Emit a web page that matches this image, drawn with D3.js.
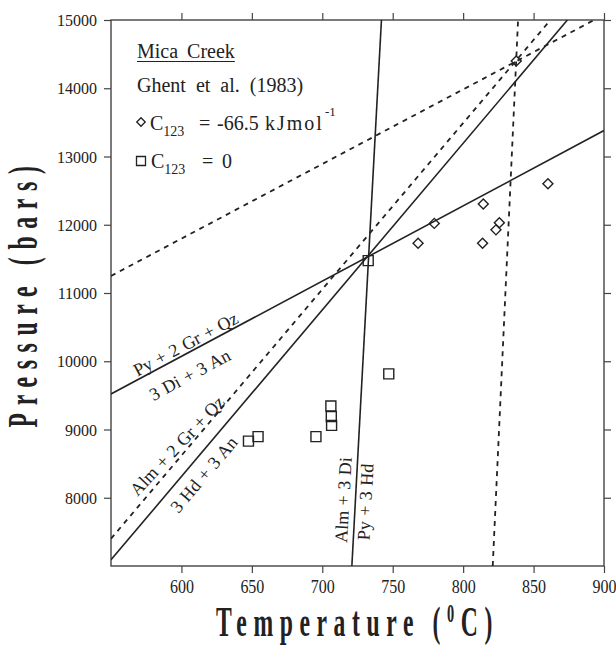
<!DOCTYPE html>
<html>
<head>
<meta charset="utf-8">
<script src="https://cdn.jsdelivr.net/npm/d3@7"></script>
<style>
  body { margin: 0; background: #fff; }
  svg { display: block; font-family: "Liberation Serif", "Times New Roman", serif; }
</style>
</head>
<body>
<div id="chart"></div>
<script>
const width = 616;
const height = 647;
const margin = {top: 20, right: 12, bottom: 81, left: 111};

// tick values
const tempTicks = [600, 650, 700, 750, 800, 850, 900];
const presTicks = [8000, 9000, 10000, 11000, 12000, 13000, 14000, 15000];

// C123 = -66.5 kJ/mol
const diamondPts = [
    {t: 837.7, p: 14400}, {t: 860.2, p: 12600}, {t: 814.3, p: 12305},
    {t: 779.5, p: 12020}, {t: 768.0, p: 11730}, {t: 813.8, p: 11730},
    {t: 823.3, p: 11925}, {t: 825.7, p: 12030}
];
// C123 = 0
const squarePts = [
    {t: 732.6, p: 11475}, {t: 747.2, p: 9815}, {t: 706.1, p: 9345},
    {t: 706.4, p: 9190}, {t: 706.6, p: 9060}, {t: 695.5, p: 8895},
    {t: 654.4, p: 8895}, {t: 647.6, p: 8830}
];

// reaction lines (end points, T in C, P in bars)
const solidLines = [
    [{t: 550, p: 9520}, {t: 900, p: 13380}],   // Py + 2Gr + Qz = 3Di + 3An
    [{t: 550, p: 7090}, {t: 874, p: 15000}],   // Alm + 2Gr + Qz = 3Hd + 3An
    [{t: 721, p: 7000}, {t: 742, p: 15000}]    // Alm + 3Di = Py + 3Hd
];
const dashedLines = [
    [{t: 550, p: 11250}, {t: 893, p: 15000}],
    [{t: 550, p: 7400}, {t: 862, p: 15000}],
    [{t: 821, p: 7000}, {t: 839, p: 15000}]
];

const lineLabels = [
    {text: "Py + 2 Gr + Qz", t: 603, p: 10250, line: 0},
    {text: "3 Di + 3 An", t: 606, p: 9800, line: 0},
    {text: "Alm + 2 Gr + Qz", t: 597, p: 8760, line: 1, tilt: 3},
    {text: "3 Hd + 3 An", t: 616, p: 8340, line: 1},
    {text: "Alm + 3 Di", t: 715, p: 7967, line: 2},
    {text: "Py + 3 Hd", t: 730.7, p: 7938, line: 2}
];

const svg = d3.select("#chart").append("svg")
    .attr("width", width)
    .attr("height", height);

const x = d3.scaleLinear().domain([550, 900]).range([margin.left, width - margin.right]);
const y = d3.scaleLinear().domain([7000, 15000]).range([height - margin.bottom, margin.top]);

const ink = "#222";
const serif = "'Liberation Serif', 'Times New Roman', serif";

svg.append("defs").append("clipPath").attr("id", "plot")
  .append("rect")
    .attr("x", x(550)).attr("y", y(15000))
    .attr("width", x(900) - x(550)).attr("height", y(7000) - y(15000));

// axes on all four sides, ticks outward
const bottomAxis = svg.append("g")
    .attr("transform", `translate(0,${y(7000)})`)
    .call(d3.axisBottom(x).tickValues(tempTicks).tickSize(7).tickSizeOuter(0).tickFormat(d3.format("d")));

svg.append("g")
    .attr("transform", `translate(0,${y(15000)})`)
    .call(d3.axisTop(x).tickValues(tempTicks).tickSize(7).tickSizeOuter(0).tickFormat(""));

const leftAxis = svg.append("g")
    .attr("transform", `translate(${x(550)},0)`)
    .call(d3.axisLeft(y).tickValues(presTicks).tickSize(7).tickPadding(7).tickSizeOuter(0).tickFormat(d3.format("d")));

svg.append("g")
    .attr("transform", `translate(${x(900)},0)`)
    .call(d3.axisRight(y).tickValues(presTicks).tickSize(7).tickSizeOuter(0).tickFormat(""));

svg.selectAll(".domain").remove();
svg.selectAll("g").attr("font-family", null).attr("font-size", null);
svg.selectAll(".tick line").attr("stroke", "#444").attr("stroke-width", 1.2);
svg.selectAll(".tick text")
    .attr("fill", ink)
    .attr("font-family", serif)
    .attr("font-size", 16);

bottomAxis.selectAll("text")
    .attr("y", 0).attr("dy", null)
    .attr("transform", "translate(0,27) scale(1,1.2)");
leftAxis.selectAll("text")
    .attr("dy", null)
    .attr("dominant-baseline", "central")
    .attr("transform", "scale(1,1.08)");

svg.append("rect")
    .attr("x", x(550)).attr("y", y(15000))
    .attr("width", x(900) - x(550)).attr("height", y(7000) - y(15000))
    .attr("fill", "none").attr("stroke", "#444").attr("stroke-width", 1.4);

// reaction lines
const lineGen = d3.line().x(d => x(d.t)).y(d => y(d.p));
const plot = svg.append("g").attr("clip-path", "url(#plot)");

plot.selectAll("path.solid")
  .data(solidLines)
  .join("path")
    .attr("class", "solid")
    .attr("d", lineGen)
    .attr("fill", "none")
    .attr("stroke", ink)
    .attr("stroke-width", 1.6);

plot.selectAll("path.dashed")
  .data(dashedLines)
  .join("path")
    .attr("class", "dashed")
    .attr("d", lineGen)
    .attr("fill", "none")
    .attr("stroke", ink)
    .attr("stroke-width", 1.8)
    .attr("stroke-dasharray", "5,5");

// line labels
function lineAngle(seg) {
    const dx = x(seg[1].t) - x(seg[0].t);
    const dy = y(seg[1].p) - y(seg[0].p);
    return Math.atan2(dy, dx) * 180 / Math.PI;
}

svg.append("g")
  .selectAll("text")
  .data(lineLabels)
  .join("text")
    .attr("transform", d => `translate(${x(d.t)},${y(d.p)}) rotate(${lineAngle(solidLines[d.line]) + (d.tilt || 0)})`)
    .attr("text-anchor", "middle")
    .attr("dominant-baseline", "central")
    .attr("fill", ink)
    .attr("font-family", serif)
    .style("font-size", "18px")
    .style("word-spacing", "1px")
    .text(d => d.text);

// data points
svg.append("g")
  .selectAll("path")
  .data(diamondPts)
  .join("path")
    .attr("d", d3.symbol(d3.symbolSquare, 50))
    .attr("transform", d => `translate(${x(d.t)},${y(d.p)}) rotate(45)`)
    .attr("fill", "none")
    .attr("stroke", ink)
    .attr("stroke-width", 1.4);

svg.append("g")
  .selectAll("path")
  .data(squarePts)
  .join("path")
    .attr("d", d3.symbol(d3.symbolSquare, 100))
    .attr("transform", d => `translate(${x(d.t)},${y(d.p)})`)
    .attr("fill", "none")
    .attr("stroke", ink)
    .attr("stroke-width", 1.4);

// legend
const legend = svg.append("g").attr("fill", ink).attr("font-family", serif).style("font-size", "20px");

const title = legend.append("text").attr("x", 137).attr("y", 58).text("Mica Creek").style("word-spacing", "4px");
const tw = title.node().getComputedTextLength();
legend.append("line")
    .attr("x1", 137).attr("x2", 137 + tw)
    .attr("y1", 61.5).attr("y2", 61.5)
    .attr("stroke", ink).attr("stroke-width", 1.2);

legend.append("text").attr("x", 137).attr("y", 92)
    .style("word-spacing", "5px")
    .text("Ghent et al. (1983)");

legend.append("path")
    .attr("d", d3.symbol(d3.symbolSquare, 36))
    .attr("transform", "translate(141,122) rotate(45)")
    .attr("fill", "none").attr("stroke", ink).attr("stroke-width", 1.3);

const l1 = legend.append("text").attr("y", 130);
l1.append("tspan").attr("x", 150).text("C");
l1.append("tspan").attr("dy", 6).style("font-size", "14px").text("123");
l1.append("tspan").attr("x", 199).attr("dy", -6).text("=");
l1.append("tspan").attr("x", 217).text("-66.5");
l1.append("tspan").attr("x", 265).style("letter-spacing", "2px").text("kJmol");
l1.append("tspan").attr("dx", 1).attr("dy", -14).style("font-size", "13px").text("-1");

legend.append("path")
    .attr("d", d3.symbol(d3.symbolSquare, 81))
    .attr("transform", "translate(141,161)")
    .attr("fill", "none").attr("stroke", ink).attr("stroke-width", 1.3);

const l2 = legend.append("text").attr("y", 168);
l2.append("tspan").attr("x", 151).text("C");
l2.append("tspan").attr("dy", 6).style("font-size", "14px").text("123");
l2.append("tspan").attr("x", 202).attr("dy", -6).text("=");
l2.append("tspan").attr("x", 222).text("0");

// axis titles
const xt = svg.append("text")
    .attr("transform", `translate(${(x(550) + x(900)) / 2},636) scale(0.55,1)`)
    .attr("text-anchor", "middle")
    .attr("fill", ink)
    .attr("font-family", serif)
    .style("font-size", "43px")
    .style("font-weight", "bold")
    .style("letter-spacing", "12px");
xt.append("tspan").text("Temperature (");
xt.append("tspan").attr("dy", -14).style("font-size", "26px").text("0");
xt.append("tspan").attr("dy", 14).text("C)");

svg.append("text")
    .attr("transform", `translate(37,${(y(7000) + y(15000)) / 2}) rotate(-90) scale(0.55,1)`)
    .attr("text-anchor", "middle")
    .attr("fill", ink)
    .attr("font-family", serif)
    .style("font-size", "43px")
    .style("font-weight", "bold")
    .style("letter-spacing", "14px")
    .text("Pressure (bars)");
</script>
</body>
</html>
